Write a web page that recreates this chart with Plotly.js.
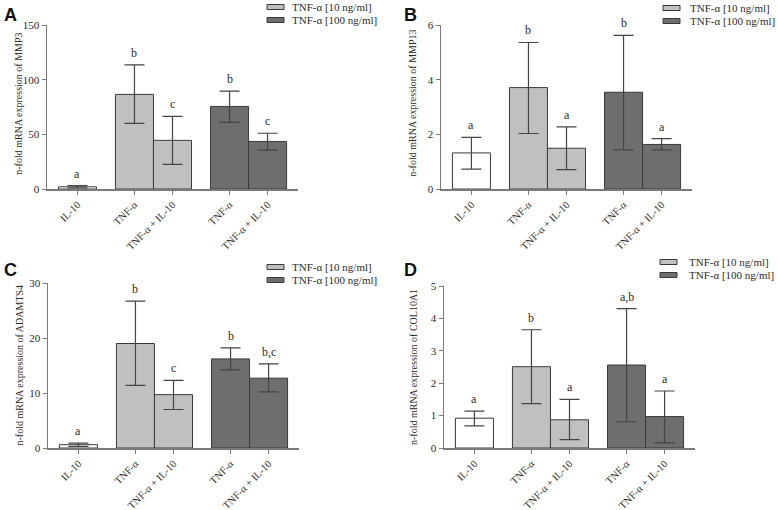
<!DOCTYPE html>
<html>
<head>
<meta charset="utf-8">
<script src="https://cdn.plot.ly/plotly-3.0.1.min.js"></script>
<style>html,body{margin:0;padding:0;background:#fff;}#chart{width:778px;height:510px;}</style>
</head>
<body>
<div id="chart"></div>
<script>
// ---- data ----
const categories = ['IL-10', 'TNF-α', 'TNF-α + IL-10', 'TNF-α', 'TNF-α + IL-10'];
const positions = [0, 1.5, 2.5, 4, 5];
const legendLabels = ['TNF-α [10 ng/ml]', 'TNF-α [100 ng/ml]'];
const panelLetters = ['A', 'B', 'C', 'D'];
const genes = ['MMP3', 'MMP13', 'ADAMTS4', 'COL10A1'];

const meanA = [2, 86.5, 44.5, 75.5, 43.5];
const hiA   = [3, 113.5, 66.5, 89.5, 51];
const loA   = [1, 60, 22.5, 61, 35.5];
const sigA  = ['a', 'b', 'c', 'b', 'c'];

const meanB = [1.32, 3.71, 1.49, 3.54, 1.63];
const hiB   = [1.89, 5.36, 2.27, 5.62, 1.84];
const loB   = [0.73, 2.03, 0.71, 1.43, 1.43];
const sigB  = ['a', 'b', 'a', 'b', 'a'];

const meanC = [0.6, 19.0, 9.7, 16.2, 12.7];
const hiC   = [0.9, 26.7, 12.3, 18.2, 15.3];
const loC   = [0.3, 11.4, 7.0, 14.2, 10.2];
const sigC  = ['a', 'b', 'c', 'b', 'b,c'];

const meanD = [0.92, 2.51, 0.87, 2.56, 0.97];
const hiD   = [1.14, 3.65, 1.50, 4.30, 1.76];
const loD   = [0.68, 1.37, 0.26, 0.81, 0.16];
const sigD  = ['a', 'b', 'a', 'a,b', 'a'];

const yMax = [150, 6, 30, 5];
const yStep = [50, 2, 10, 1];

// ---- styling ----
const serif = 'Liberation Serif, Times New Roman, serif';
const fills = ['#ffffff', '#c0c0c0', '#6e6e6e'];
const groupIdx = [0, 1, 1, 2, 2];
const lineCol = '#3a3a3a';
const axisCol = '#7a7a7a';
const textCol = '#2b2b2b';

const panels = [
  {mean: meanA, hi: hiA, lo: loA, sig: sigA, xd: [47/778, 298/778], yd: [1-189/510, 1-25/510],
   leg: {bx: 267, tx: 290, y1: 7, y2: 20}, let: {x: 2, y: 3}, tx: 19, ty: 0.52},
  {mean: meanB, hi: hiB, lo: loB, sig: sigB, xd: [441/778, 692/778], yd: [1-189/510, 1-25/510],
   leg: {bx: 663, tx: 688, y1: 8, y2: 21}, let: {x: 402, y: 3}, tx: 413, ty: 0.52},
  {mean: meanC, hi: hiC, lo: loC, sig: sigC, xd: [48/778, 299/778], yd: [1-448/510, 1-283/510],
   leg: {bx: 267, tx: 290, y1: 267, y2: 280}, let: {x: 2, y: 258}, tx: 19, ty: 0.5},
  {mean: meanD, hi: hiD, lo: loD, sig: sigD, xd: [444/778, 695/778], yd: [1-448/510, 1-286/510],
   leg: {bx: 660, tx: 687, y1: 262, y2: 275}, let: {x: 402, y: 258}, tx: 413, ty: 0.5}
];

const traces = [];
const annotations = [];
const shapes = [];
const layout = {
  width: 778, height: 510,
  margin: {l: 0, r: 0, t: 0, b: 0},
  paper_bgcolor: '#fff', plot_bgcolor: '#fff',
  showlegend: false,
  barmode: 'overlay',
  font: {family: serif, size: 10, color: textCol}
};

panels.forEach((p, k) => {
  const sfx = k === 0 ? '' : String(k + 1);
  const xa = 'x' + sfx, ya = 'y' + sfx;
  [0, 1, 2].forEach(g => {
    const idx = positions.map((_, i) => i).filter(i => groupIdx[i] === g);
    traces.push({
      type: 'bar', xaxis: xa, yaxis: ya,
      x: idx.map(i => positions[i]),
      y: idx.map(i => p.mean[i]),
      width: 1,
      marker: {color: fills[g], line: {color: lineCol, width: 1}},
      error_y: {type: 'data', symmetric: false,
        array: idx.map(i => p.hi[i] - p.mean[i]),
        arrayminus: idx.map(i => p.mean[i] - p.lo[i]),
        color: '#444', thickness: 1.2, width: 10},
      hoverinfo: 'skip'
    });
  });
  const tv = [];
  for (let v = 0; v <= yMax[k] + 1e-9; v += yStep[k]) tv.push(v);
  layout['xaxis' + sfx] = {
    domain: p.xd, anchor: ya, range: [-0.8, 5.8],
    tickvals: positions, ticktext: categories, tickangle: -45,
    ticks: 'outside', ticklen: 4, tickcolor: axisCol, tickwidth: 1,
    showline: true, linecolor: axisCol, linewidth: 1.5,
    showgrid: false, zeroline: false, fixedrange: true,
    tickfont: {family: serif, size: 10.5, color: textCol}
  };
  layout['yaxis' + sfx] = {
    domain: p.yd, anchor: xa, range: [0, yMax[k]],
    tickvals: tv, ticks: 'outside', ticklen: 4, tickcolor: axisCol, tickwidth: 1,
    showline: true, linecolor: axisCol, linewidth: 1.5,
    showgrid: false, zeroline: false, fixedrange: true,
    tickfont: {family: serif, size: 11, color: textCol}
  };
  annotations.push({xref: 'paper', yref: ya + ' domain', x: p.tx / 778, y: p.ty,
    text: 'n-fold mRNA expression of ' + genes[k], textangle: -90, showarrow: false,
    xanchor: 'center', yanchor: 'middle',
    font: {family: serif, size: 10, color: textCol}});
  positions.forEach((x, i) => {
    annotations.push({xref: xa, yref: ya, x: x, y: p.hi[i], text: p.sig[i],
      showarrow: false, yanchor: 'bottom', yshift: 3,
      font: {family: serif, size: 12, color: textCol}});
  });
  [p.leg.y1, p.leg.y2].forEach((yy, j) => {
    shapes.push({type: 'rect', xref: 'paper', yref: 'paper',
      x0: p.leg.bx / 778, x1: (p.leg.bx + 17) / 778,
      y0: 1 - (yy + 2.5) / 510, y1: 1 - (yy - 2.5) / 510,
      fillcolor: fills[j + 1], line: {color: lineCol, width: 1}});
    annotations.push({xref: 'paper', yref: 'paper', x: p.leg.tx / 778, y: 1 - yy / 510,
      text: legendLabels[j], showarrow: false, xanchor: 'left', yanchor: 'middle',
      font: {family: serif, size: 11, color: textCol}});
  });
  annotations.push({xref: 'paper', yref: 'paper', x: p.let.x / 778, y: 1 - p.let.y / 510,
    text: '<b>' + panelLetters[k] + '</b>', showarrow: false, xanchor: 'left', yanchor: 'top',
    font: {family: 'Liberation Sans, Arial, sans-serif', size: 18, color: '#111'}});
});

layout.annotations = annotations;
layout.shapes = shapes;

Plotly.newPlot('chart', traces, layout, {displayModeBar: false, staticPlot: true});
</script>
</body>
</html>
